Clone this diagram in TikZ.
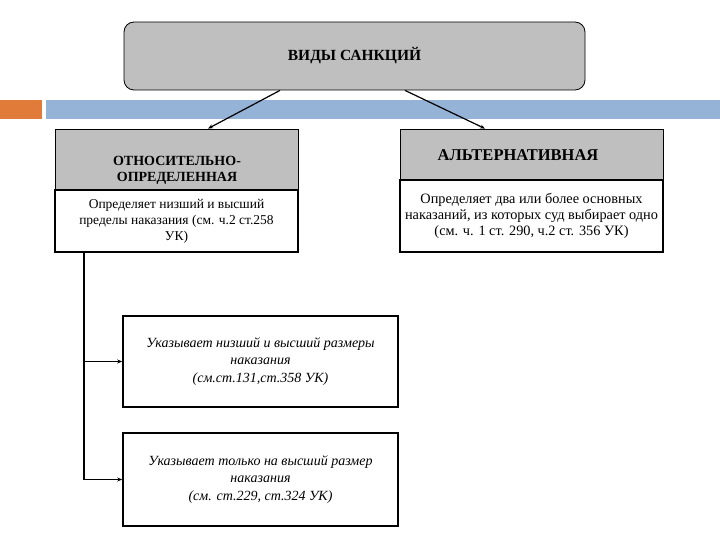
\documentclass[tikz,border=0pt]{standalone}
\usepackage{fontspec}
\setmainfont{Liberation Serif}
\usetikzlibrary{arrows.meta,positioning}
\definecolor{boxgray}{HTML}{BFBFBF}
\definecolor{barblue}{HTML}{94B3D6}
\definecolor{barorange}{HTML}{E07B39}

\begin{document}
\begin{tikzpicture}[
  x=1pt, y=-1pt,
  >={Stealth[length=5pt,width=4pt]},
  every node/.style={font=\fontsize{13.5}{16}\selectfont},
  head/.style={draw, line width=0.8pt, fill=boxgray, inner sep=0pt},
  headtxt/.style={align=center, font=\fontsize{14}{15.5}\selectfont\bfseries},
  body/.style={draw, line width=1.6pt, fill=white, align=center, inner sep=0pt},
  note/.style={draw, line width=1.6pt, align=center, inner sep=0pt, minimum width=275pt, font=\fontsize{14}{17.5}\selectfont\itshape},
  link/.style={->, line width=1.2pt}
]
\useasboundingbox (0,0) rectangle (720,540);

% title bar
\fill[barorange] (0,100) rectangle (42,119);
\fill[barblue] (46,100) rectangle (720,119);

\node[head, rounded corners=10pt, minimum width=461pt, minimum height=68pt,
  font=\fontsize{15.5}{16}\selectfont\bfseries] (top) at (354.5,56) {ВИДЫ САНКЦИЙ};

% left column
\node[head, minimum width=243pt, minimum height=61pt] (lhead) at (176.5,159.5) {};
\node[headtxt] (lheadtxt) at (177,170.5) {ОТНОСИТЕЛЬНО-\\ОПРЕДЕЛЕННАЯ};
\node[body, minimum width=243pt, minimum height=62pt] (lbody) at (176.5,221)
  {Определяет низший и высший\\пределы наказания (см. ч.2 ст.258\\УК)};

% right column
\node[head, minimum width=263pt, minimum height=51pt] (rhead) at (531.5,154.5) {};
\node[headtxt, font=\fontsize{16.5}{16}\selectfont\bfseries] (rheadtxt) at (518,155) {АЛЬТЕРНАТИВНАЯ};
\node[body, minimum width=263pt, minimum height=72pt, font=\fontsize{14.3}{16}\selectfont] (rbody) at (531.5,216)
  {Определяет два или более основных\\наказаний, из которых суд выбирает одно\\(см. ч. 1 ст. 290, ч.2 ст. 356 УК)};

% lower boxes
\node[note, minimum height=91pt] (lim) at (260.5,361.5)
  {Указывает низший и высший размеры\\наказания\\(см.ст.131,ст.358 УК)};
\node[note, minimum height=93pt] (max) at (260.5,479.5)
  {Указывает только на высший размер\\наказания\\(см. ст.229, ст.324 УК)};

% connectors
\draw[link] ([xshift=-74.5pt]top.south) -- ([xshift=31.5pt]lhead.north);
\draw[link] ([xshift=50.5pt]top.south) -- ([xshift=-46.5pt]rhead.north);
\coordinate (trunk) at ([xshift=-92.5pt]lbody.south);
\draw[link] (trunk) |- (lim.west);
\draw[link] (trunk) |- (max.west);
\end{tikzpicture}
\end{document}
